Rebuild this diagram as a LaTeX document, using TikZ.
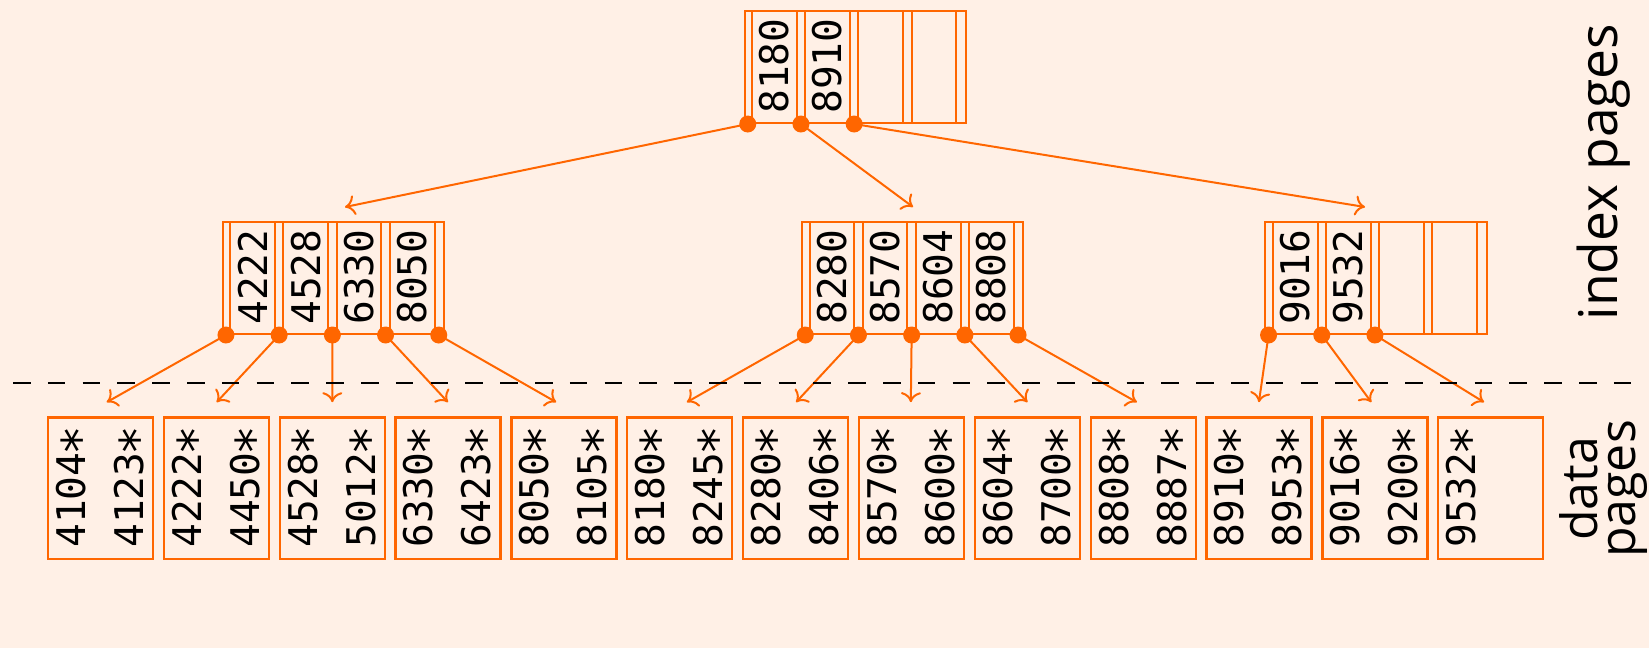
\documentclass[tikz,border=0pt]{standalone}
\usepackage{fontspec}
\usepackage{graphicx}
\setmainfont{Open Sans}
\newfontfamily\keyfont{DejaVu Sans Mono}
\usetikzlibrary{arrows.meta,calc}
\definecolor{bgc}{RGB}{255,240,230}
\definecolor{org}{RGB}{255,102,0}
\newcommand{\bigast}{\makebox[0.602em]{\raisebox{-0.3em}[0.6em][0pt]{\scalebox{1.25}{*}}}}
\tikzset{
  idxbox/.style={draw=org,line width=2pt,rectangle,minimum width=221.3pt,minimum height=112pt,inner sep=0pt,anchor=north west},
  slotline/.style={draw=org,line width=2pt},
  keytext/.style={rotate=90,inner sep=0pt,font=\keyfont\fontsize{39.5}{40}\selectfont},
  databox/.style={draw=org,line width=2.3pt,rectangle,minimum width=105pt,minimum height=141.7pt,inner sep=0pt},
  ptr/.style={draw=org,line width=2pt,-{Computer Modern Rightarrow[length=10pt,width=20pt]}},
  sepline/.style={draw=black,line width=2pt,dash pattern=on 17.5pt off 17.3pt},
  side/.style={rotate=90,inner sep=0pt,align=center},
}
% name, x, y, four keys, last pointer index
\newcommand{\IdxPage}[8]{%
  \node[idxbox] (#1) at (#2,#3) {};
  \foreach \k/\t in {0/#4,1/#5,2/#6,3/#7}{
    \draw[slotline] ($(#1.north west)+(53.2*\k+8.5,0)$) -- ++(0,112);
    \draw[slotline] ($(#1.north west)+(53.2*\k+53.2,0)$) -- ++(0,112);
    \node[keytext] at ($(#1.north west)+(53.2*\k+30.85,56)$) {\t};
  }
  \foreach \k in {0,...,#8}{
    \coordinate (#1-p\k) at ($(#1.south west)+(4.25+53.2*\k,0)$);
    \fill[org] (#1-p\k) circle (8.5pt);
  }
}
\begin{document}
\begin{tikzpicture}[x=1pt,y=-1pt]
\fill[bgc] (0,0) rectangle (1649,648);
\useasboundingbox (0,0) rectangle (1649,648);
\IdxPage{R}{743.5}{10}{8180}{8910}{}{}{2}
\IdxPage{A}{221.7}{221}{4222}{4528}{6330}{8050}{4}
\IdxPage{B}{801}{221}{8280}{8570}{8604}{8808}{4}
\IdxPage{C}{1264.3}{221}{9016}{9532}{}{}{2}
\foreach \i/\a/\b in {0/4104/4123,1/4222/4450,2/4528/5012,3/6330/6423,4/8050/8105,5/8180/8245,6/8280/8406,7/8570/8600,8/8604/8700,9/8808/8887,10/8910/8953,11/9016/9200}{
  \node[databox] (d\i) at (100.5+115.86*\i,488.2) {};
  \node[keytext] at ($(d\i.center)+(-29.5,0)$) {\a\bigast};
  \node[keytext] at ($(d\i.center)+(28.5,0)$) {\b\bigast};
}
\node[databox] (d12) at (100.5+115.86*12,488.2) {};
\node[keytext] at ($(d12.center)+(-29.5,0)$) {9532\bigast};
\coordinate (tA) at (345,207);
\coordinate (tB) at (913,207);
\coordinate (tC) at (1365,207);
\foreach \i/\o in {0/6.2,1/0.3,2/0.1,3/-0.1,4/-7.7,5/7,6/0.4,7/-0.7,8/0.1,9/-6.4,10/-0.2,11/-3.6,12/-6.8}{
  \coordinate (t\i) at ($(d\i.north)+(\o,-14)$);
}
\draw[ptr] (R-p0) -- (tA);
\draw[ptr] (R-p1) -- (tB);
\draw[ptr] (R-p2) -- (tC);
\foreach \k in {0,...,4}{
  \pgfmathtruncatemacro{\j}{\k+5}
  \draw[ptr] (A-p\k) -- (t\k);
  \draw[ptr] (B-p\k) -- (t\j);
}
\foreach \k in {0,1,2}{
  \pgfmathtruncatemacro{\j}{\k+10}
  \draw[ptr] (C-p\k) -- (t\j);
}
\coordinate (sl) at (13,382.5);
\coordinate (sr) at (1635,382.5);
\draw[sepline] (sl) -- (sr);
\node[side,font=\fontsize{53.4}{53.4}\selectfont] (ip) at (1604,172) {index pages};
\node[side,font=\fontsize{50}{38}\selectfont] (dp) at (1603.5,489) {data\\pages};
\end{tikzpicture}
\end{document}
